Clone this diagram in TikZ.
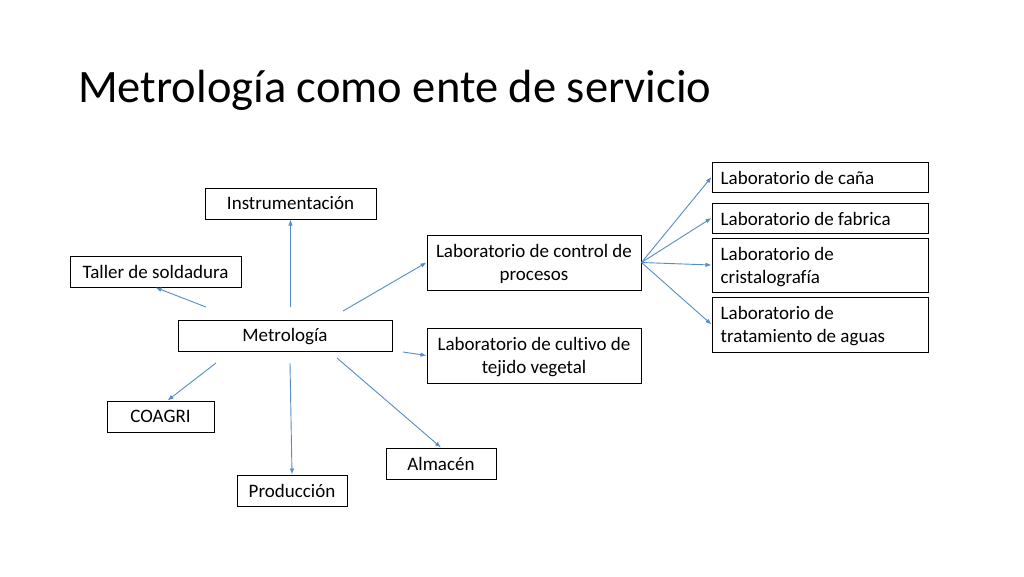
\documentclass[tikz,border=0pt]{standalone}
\usepackage{fontspec}
\setmainfont[Ligatures=NoCommon]{Carlito}
\usetikzlibrary{arrows.meta,calc}
\definecolor{arrblue}{RGB}{86,140,200}
\begin{document}
\begin{tikzpicture}[x=1pt,y=-1pt,
  box/.style={draw=black,line width=1pt,fill=white,inner sep=0pt,font=\fontsize{19}{23}\selectfont,align=center},
  txt/.style={inner sep=0pt,font=\fontsize{19}{23}\selectfont,align=center},
  lbox/.style={inner sep=0pt,font=\fontsize{19}{23}\selectfont,align=left,anchor=west},
  arr/.style={draw=arrblue,line width=0.9pt,-{Latex[length=6pt,width=4.5pt]}}]
\useasboundingbox[fill=white] (0,0) rectangle (1024,576);
\node[anchor=base west,inner sep=0pt,font=\fontsize{46.5}{56}\selectfont] (title) at (78,102) {Metrología como ente de servicio};
% left boxes
\node[box,minimum width=171pt,minimum height=31pt] (instr) at (290.5,203.5) {Instrumentación};
\node[box,minimum width=171pt,minimum height=31pt] (taller) at (155.5,271.5) {Taller de soldadura};
\node[box,minimum width=214pt,minimum height=31pt] (metro) at (285,335.5) {};
\node[txt] (metrot) at ($(metro.center)+(0,1.5)$) {Metrología};
\node[box,minimum width=107pt,minimum height=31pt] (coagri) at (160.5,416.5) {COAGRI};
\node[box,minimum width=110pt,minimum height=31pt] (prod) at (292,490.5) {Producción};
\node[box,minimum width=110pt,minimum height=31pt] (alm) at (441,463.5) {Almacén};
\node[box,minimum width=214pt,minimum height=55pt] (control) at (534,262.5) {};
\node[txt] (controlt) at ($(control.center)+(0,1.5)$) {Laboratorio de control de\\procesos};
\node[box,minimum width=214pt,minimum height=55pt] (cultivo) at (534,355.5) {};
\node[txt] (cultivot) at ($(cultivo.center)+(0,1.5)$) {Laboratorio de cultivo de\\tejido vegetal};
% right column
\node[box,minimum width=216pt,minimum height=30pt] (cana) at (820,177) {};
\node[box,minimum width=216pt,minimum height=30pt] (fabrica) at (820,218) {};
\node[box,minimum width=216pt,minimum height=54pt] (cristal) at (820,265) {};
\node[box,minimum width=216pt,minimum height=55pt] (trat) at (820,324.5) {};
\node[lbox] (canat) at ($(cana.west)+(9,1)$) {Laboratorio de caña};
\node[lbox] (fabricat) at ($(fabrica.west)+(9,1)$) {Laboratorio de fabrica};
\node[lbox] (cristalt) at ($(cristal.west)+(9,2)$) {Laboratorio de\\cristalografía};
\node[lbox] (tratt) at ($(trat.west)+(9,2)$) {Laboratorio de\\tratamiento de aguas};
% arrow start points
\coordinate (sInstr) at (290.5,307);
\coordinate (sTaller) at (206,307);
\coordinate (sControl) at (343,311);
\coordinate (sCultivo) at (403,352);
\coordinate (sAlm) at (337,358);
\coordinate (sCoagri) at (216,363);
\coordinate (sProd) at (290,363);
\coordinate (eCoagri) at ($(coagri.north)+(7,0)$);
\draw[arr] (sInstr) -- (instr.south);
\draw[arr] (sTaller) -- (taller.south);
\draw[arr] (sControl) -- (control.west);
\draw[arr] (sCultivo) -- (cultivo.west);
\draw[arr] (sAlm) -- (alm.north);
\draw[arr] (sCoagri) -- (eCoagri);
\draw[arr] (sProd) -- (prod.north);
\draw[arr] (control.east) -- (cana.west);
\draw[arr] (control.east) -- (fabrica.west);
\draw[arr] (control.east) -- (cristal.west);
\draw[arr] (control.east) -- (trat.west);
\end{tikzpicture}
\end{document}
